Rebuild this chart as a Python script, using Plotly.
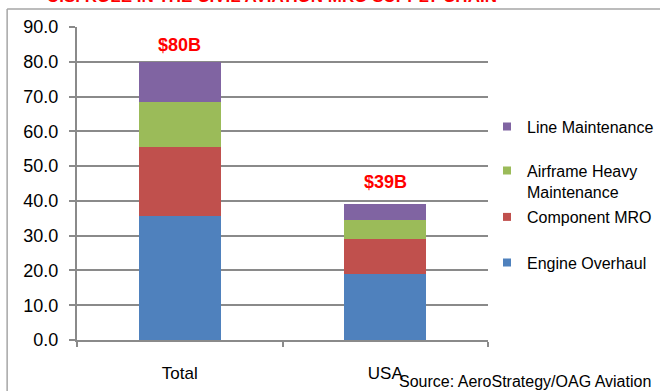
import plotly.graph_objects as go

# Market size by region, US$ billions
categories = ["Total", "USA"]
series_names = ["Engine Overhaul", "Component MRO", "Airframe Heavy Maintenance", "Line Maintenance"]
engine_overhaul = [35.8, 19.1]
component_mro = [19.8, 10.0]
airframe_heavy = [12.7, 5.5]
line_maintenance = [11.7, 4.4]
series_values = [engine_overhaul, component_mro, airframe_heavy, line_maintenance]
colors = ["#4F81BD", "#C0504D", "#9BBB59", "#8064A2"]
legend_labels = ["Engine Overhaul", "Component MRO", "Airframe Heavy<br>Maintenance", "Line Maintenance"]
y_ticks = [0, 10, 20, 30, 40, 50, 60, 70, 80, 90]

totals = [sum(v[i] for v in series_values) for i in range(len(categories))]
total_labels = [f"${t:.0f}B" for t in totals]

FONT = "Arial, Liberation Sans, sans-serif"
GRID = "#8a8a8a"
W, H = 660, 391

fig = go.Figure()
for name, vals, col in zip(series_names, series_values, colors):
    fig.add_trace(go.Bar(x=categories, y=vals, name=name, marker_color=col,
                         marker_line_width=0, showlegend=False))

# legend entries, one legend box per series so each can be placed on its own
legend_ids = ["legend4", "legend3", "legend2", "legend"]
legend_py = [262.7, 217.0, 181.2, 126.7]   # vertical centre of each entry, px from top
for name, label, col, lid in zip(series_names, legend_labels, colors, legend_ids):
    fig.add_trace(go.Scatter(x=[None], y=[None], mode="markers", name=label,
                             marker=dict(symbol="square", size=8, color=col),
                             legend=lid, showlegend=True))

legend_common = dict(xref="container", yref="container", x=487 / W, xanchor="left",
                     yanchor="middle", bgcolor="rgba(0,0,0,0)",
                     font=dict(family=FONT, size=16, color="#000000"), valign="top")
layout_legends = {}
for lid, py in zip(legend_ids, legend_py):
    layout_legends[lid] = dict(legend_common, y=1 - py / H)

label_shift = [5, 10]
annotations = [
    dict(x=cat, y=tot, text=f"<b>{lab}</b>", showarrow=False, xref="x", yref="y",
         yanchor="bottom", yshift=sh, font=dict(family=FONT, size=18, color="#FF0000"))
    for cat, tot, lab, sh in zip(categories, totals, total_labels, label_shift)
]
annotations.append(dict(x=0.474, y=1.0607, xref="paper", yref="paper", yanchor="bottom",
                        xanchor="center", showarrow=False,
                        text="<b>U.S. ROLE IN THE CIVIL AVIATION MRO SUPPLY CHAIN</b>",
                        font=dict(family=FONT, size=17, color="#FF0000")))
annotations.append(dict(x=1.0, y=-0.134, xref="paper", yref="paper", xanchor="left",
                        yanchor="middle", xshift=-91, showarrow=False,
                        text="Source: AeroStrategy/OAG Aviation",
                        font=dict(family=FONT, size=16, color="#000000")))

fig.update_layout(
    barmode="stack",
    bargap=0.6,
    width=W, height=H,
    margin=dict(l=77, r=172, t=27, b=51, autoexpand=False),
    paper_bgcolor="#FFFFFF", plot_bgcolor="#FFFFFF",
    annotations=annotations,
    shapes=[
        dict(type="line", xref="paper", yref="paper", x0=-0.170, x1=1.45, y0=1.0575, y1=1.0575,
             line=dict(color="#A6A6A6", width=1.5)),
        dict(type="line", xref="paper", yref="paper", x0=-0.170, x1=-0.170, y0=1.0575, y1=-0.3,
             line=dict(color="#A6A6A6", width=1.5)),
    ],
    **layout_legends,
)
fig.update_xaxes(type="category", range=[-0.5, 1.5], showgrid=False, showline=True,
                 linecolor=GRID, linewidth=2, ticks="outside", tickson="boundaries",
                 ticklen=5, tickcolor=GRID, tickwidth=2, ticklabelstandoff=17,
                 automargin=False,
                 tickfont=dict(family=FONT, size=17, color="#000000"))
fig.update_yaxes(range=[0, 90], tickvals=y_ticks, ticktext=[f"{v:.1f}" for v in y_ticks],
                 showgrid=True, gridcolor=GRID, gridwidth=2, showline=True,
                 linecolor=GRID, linewidth=2, ticks="outside", ticklen=6, tickcolor=GRID,
                 tickwidth=2, ticklabelstandoff=7, zeroline=False, automargin=False,
                 tickfont=dict(family=FONT, size=18, color="#000000"))

fig.write_html("out.html")
